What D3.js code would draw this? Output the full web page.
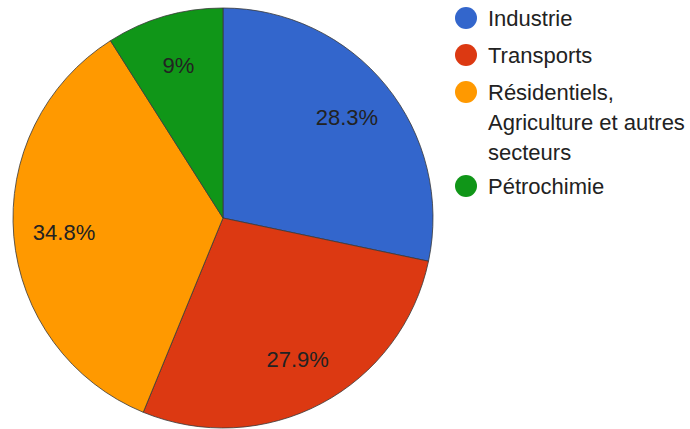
<!DOCTYPE html>
<html lang="fr">
<head>
<meta charset="utf-8">
<title>Répartition par secteur</title>
<script src="https://d3js.org/d3.v7.min.js"></script>
<style>
  body { margin: 0; background: #fff; }
  text { font-family: Arial, "Liberation Sans", sans-serif; fill: #222; }
</style>
</head>
<body>
<div id="chart"></div>
<script>
// data
var sectors = ["Industrie", "Transports", "Résidentiels, Agriculture et autres secteurs", "Pétrochimie"];
var legendLines = [["Industrie"], ["Transports"], ["Résidentiels,", "Agriculture et autres", "secteurs"], ["Pétrochimie"]];
var shares = [28.3, 27.9, 34.8, 9];
var labels = ["28.3%", "27.9%", "34.8%", "9%"];
var colors = ["#3366cc", "#dc3912", "#ff9900", "#109618"];

var w = 690, h = 429;
var cx = 223, cy = 218, r = 210;

var svg = d3.select("#chart").append("svg")
  .attr("width", w)
  .attr("height", h);

var pie = d3.pie().sort(null).value(function(d) { return d; });
var arc = d3.arc().innerRadius(0).outerRadius(r);
var labelArc = d3.arc().innerRadius(r * 0.76).outerRadius(r * 0.76);

var g = svg.append("g").attr("transform", "translate(" + cx + "," + cy + ")");

var slices = g.selectAll(".slice")
  .data(pie(shares))
  .enter().append("g")
    .attr("class", "slice");

slices.append("path")
  .attr("d", arc)
  .attr("fill", function(d, i) { return colors[i]; })
  .attr("stroke", "#3a3a3a")
  .attr("stroke-opacity", 0.8)
  .attr("stroke-width", 1);

slices.append("text")
  .attr("transform", function(d) { return "translate(" + labelArc.centroid(d) + ")"; })
  .attr("text-anchor", "middle")
  .attr("dy", "0.36em")
  .style("font-size", "22px")
  .text(function(d, i) { return labels[i]; });

// legend
var legendY = [18, 55, 92, 186];
var lineH = 30;
var legend = svg.selectAll(".legend")
  .data(sectors)
  .enter().append("g")
    .attr("class", "legend")
    .attr("transform", function(d, i) { return "translate(466," + legendY[i] + ")"; });

legend.append("circle")
  .attr("r", 11)
  .attr("fill", function(d, i) { return colors[i]; });

legend.each(function(d, i) {
  var t = d3.select(this).append("text")
    .style("font-size", "22px");
  legendLines[i].forEach(function(line, j) {
    t.append("tspan")
      .attr("x", 22)
      .attr("y", j * lineH)
      .attr("dy", "0.36em")
      .text(line);
  });
});
</script>
</body>
</html>
